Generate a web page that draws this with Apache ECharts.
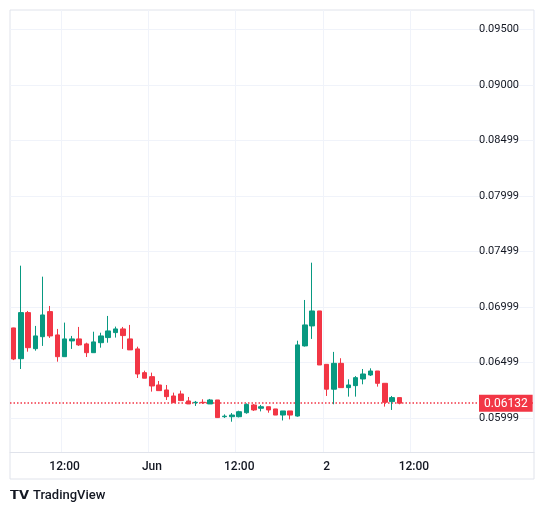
<!DOCTYPE html>
<html><head><meta charset="utf-8">
<script src="https://cdn.jsdelivr.net/npm/echarts@6/dist/echarts.min.js"></script>
<style>html,body{margin:0;padding:0;background:#fff}#c{width:544px;height:515px}</style>
</head><body><div id="c"></div>
<script>
const opens  = [0.06810,0.06533,0.06948,0.06623,0.06731,0.06957,0.06747,0.06551,0.06693,0.06711,0.06666,0.06587,0.06677,0.06723,0.06768,0.06801,0.06711,0.06621,0.06407,0.06371,0.06296,0.06251,0.06197,0.06215,0.06152,0.06136,0.06140,0.06125,0.06161,0.06010,0.06010,0.06010,0.06046,0.06116,0.06086,0.06100,0.06080,0.06025,0.06062,0.06016,0.06648,0.06828,0.06963,0.06482,0.06258,0.06491,0.06272,0.06290,0.06350,0.06386,0.06422,0.06311,0.06146,0.06182];
const closes = [0.06530,0.06948,0.06632,0.06738,0.06927,0.06738,0.06551,0.06711,0.06711,0.06657,0.06587,0.06684,0.06738,0.06783,0.06801,0.06741,0.06612,0.06395,0.06357,0.06287,0.06245,0.06191,0.06137,0.06155,0.06125,0.06140,0.06136,0.06161,0.06002,0.06015,0.06025,0.06055,0.06121,0.06071,0.06100,0.06071,0.06025,0.06062,0.06025,0.06657,0.06837,0.06963,0.06476,0.06258,0.06491,0.06272,0.06296,0.06362,0.06395,0.06422,0.06311,0.06140,0.06182,0.06132];
const lows   = [0.06520,0.06440,0.06596,0.06605,0.06648,0.06720,0.06506,0.06548,0.06621,0.06648,0.06548,0.06587,0.06632,0.06677,0.06723,0.06621,0.06612,0.06359,0.06357,0.06236,0.06245,0.06161,0.06137,0.06155,0.06125,0.06107,0.06125,0.06125,0.05999,0.05999,0.05965,0.06004,0.06037,0.06062,0.06058,0.06046,0.06025,0.05976,0.05986,0.06010,0.06642,0.06711,0.06476,0.06197,0.06122,0.06272,0.06191,0.06191,0.06302,0.06377,0.06281,0.06101,0.06071,0.06122];
const highs  = [0.06812,0.07371,0.06963,0.06828,0.07272,0.07008,0.06801,0.06858,0.06738,0.06819,0.06677,0.06776,0.06767,0.06918,0.06822,0.06819,0.06837,0.06641,0.06425,0.06407,0.06332,0.06296,0.06227,0.06245,0.06188,0.06152,0.06167,0.06170,0.06161,0.06031,0.06043,0.06064,0.06130,0.06125,0.06116,0.06100,0.06080,0.06062,0.06062,0.06695,0.07062,0.07398,0.06963,0.06482,0.06594,0.06537,0.06347,0.06376,0.06440,0.06446,0.06422,0.06311,0.06197,0.06182];
const startHour = 5; // May 31, 05:00
const slotCount = 72;
const priceTicks = [0.05999,0.06499,0.06999,0.07499,0.07999,0.08499,0.09000,0.09500];
const priceTickLabels = ['0.05999','0.06499','0.06999','0.07499','0.07999','0.08499','0.09000','0.09500'];
const lastPrice = 0.06132;
const lastPriceLabel = '0.06132';

const cats = [];
for (let i = 0; i < slotCount; i++) {
  const h = startHour + i; const day = Math.floor(h / 24); const hh = h % 24;
  cats.push(i < 60 ? (hh === 12 ? '12:00' : hh === 0 ? (day === 1 ? 'Jun' : String(day)) : '') : '');
}
const data = opens.map((o, i) => [o, closes[i], lows[i], highs[i]]);
const isLbl = (i) => cats[i] !== '';
const chart = echarts.init(document.getElementById('c'));
chart.setOption({
  animation: false,
  grid: { left: 10, right: 10, top: 10, bottom: 63 },
  xAxis: {
    type: 'category', data: cats, boundaryGap: true,
    axisLine: { lineStyle: { color: '#e0e3eb' } },
    axisTick: { show: false },
    axisLabel: { interval: (i) => isLbl(i), color: '#131722', fontSize: 12, fontFamily: 'Roboto', margin: 9, fontWeight: 500 },
    splitLine: { show: true, interval: (i) => isLbl(i), lineStyle: { color: '#f0f3fa' } }
  },
  yAxis: {
    type: 'value', position: 'right', offset: -64, min: 0.05692, max: 0.09675, scale: true, z: 10,
    axisLine: { show: false }, axisTick: { show: false }, splitLine: { show: false },
    axisLabel: {
      customValues: priceTicks.concat([lastPrice]), margin: 9, color: '#131722', fontSize: 11, fontFamily: 'Roboto',
      formatter: (v) => {
        if (Math.abs(v - lastPrice) < 1e-7) return '{lp|' + lastPriceLabel + '}';
        const k = priceTicks.findIndex(t => Math.abs(t - v) < 1e-7);
        return k >= 0 ? priceTickLabels[k] : '';
      },
      rich: { lp: { backgroundColor: '#f23645', color: '#fff', fontSize: 12, fontFamily: 'Roboto', padding: [3, 5, 2, 5] } }
    }
  },
  graphic: [
    { type: 'rect', shape: { x: 10, y: 10, width: 524, height: 469 }, style: { fill: 'none', stroke: '#e0e3eb', lineWidth: 1 }, silent: true, z: -1 },
    { type: 'text', left: 10, top: 489, style: { text: '𝗧𝗩', font: 'bold 13px Roboto', fill: '#131722' } },
    { type: 'text', left: 33, top: 489, style: { text: 'TradingView', font: '500 13px Roboto', fill: '#131722' } }
  ],
  series: [
    { type: 'line', data: [], z: 0, silent: true, color: '#f0f3fa',
      markLine: { silent: true, symbol: 'none', label: { show: false }, animation: false, precision: 6,
        data: priceTicks.map(v => ({ yAxis: v, lineStyle: { color: '#f0f3fa', type: 'solid', width: 1 } }))
          .concat([{ yAxis: lastPrice, lineStyle: { color: '#f23645', type: [1.5, 2], width: 1.5 } }]) } },
    { type: 'candlestick', data: data, barWidth: 5, z: 5,
      itemStyle: { color: '#089981', color0: '#f23645', borderColor: '#089981', borderColor0: '#f23645', borderWidth: 1 } }
  ]
});
</script></body></html>
